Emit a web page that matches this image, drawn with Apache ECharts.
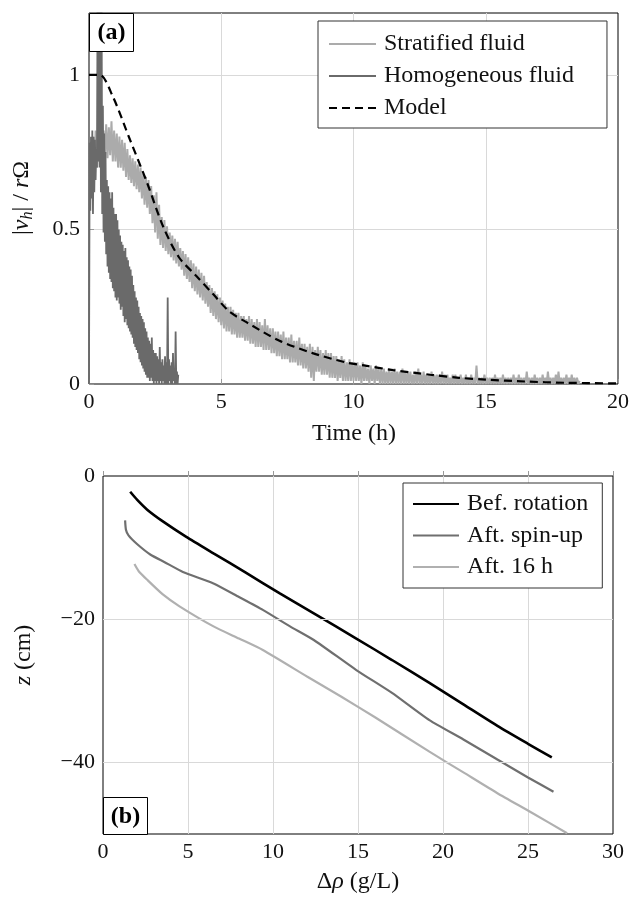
<!DOCTYPE html>
<html>
<head>
<meta charset="utf-8">
<script src="https://cdn.jsdelivr.net/npm/echarts@6/dist/echarts.min.js"></script>
<style>
  html, body { margin: 0; padding: 0; background: #fff; }
  #chart { width: 632px; height: 898px; }
</style>
</head>
<body>
<div id="chart"></div>
<script>
// ---- panel (a): velocity decay ----
// stratified fluid: upper / lower edge of the noisy trace, every 0.1 h from 0.1 h
const strStart = 0.1
const strStep = 0.1
const strHigh = [
  0.80, 0.82, 0.79, 0.83, 0.82, 0.84, 0.83, 0.85, 0.82, 0.81,
  0.80, 0.79, 0.78, 0.76, 0.74, 0.73, 0.72, 0.71, 0.70, 0.68,
  0.67, 0.66, 0.64, 0.61, 0.62, 0.58, 0.54, 0.53, 0.51, 0.49,
  0.48, 0.47, 0.46, 0.44, 0.43, 0.42, 0.41, 0.40, 0.39, 0.38,
  0.37, 0.36, 0.35, 0.33, 0.32, 0.31, 0.30, 0.29, 0.28, 0.27,
  0.26, 0.25, 0.25, 0.24, 0.23, 0.23, 0.22, 0.22, 0.21, 0.22,
  0.21, 0.20, 0.21, 0.20, 0.19, 0.21, 0.19, 0.18, 0.18, 0.17,
  0.17, 0.16, 0.17, 0.15, 0.15, 0.16, 0.14, 0.14, 0.15, 0.13,
  0.13, 0.12, 0.13, 0.12, 0.11, 0.12, 0.11, 0.10, 0.11, 0.10,
  0.10, 0.09, 0.09, 0.08, 0.09, 0.08, 0.07, 0.08, 0.07, 0.07,
  0.07, 0.06, 0.07, 0.06, 0.05, 0.06, 0.05, 0.06, 0.05, 0.05,
  0.05, 0.04, 0.05, 0.04, 0.05, 0.04, 0.04, 0.05, 0.04, 0.04,
  0.04, 0.03, 0.04, 0.05, 0.03, 0.04, 0.03, 0.03, 0.04, 0.03,
  0.03, 0.03, 0.04, 0.03, 0.03, 0.02, 0.03, 0.03, 0.02, 0.03,
  0.02, 0.03, 0.02, 0.03, 0.02, 0.06, 0.02, 0.02, 0.03, 0.02,
  0.02, 0.02, 0.03, 0.02, 0.02, 0.03, 0.02, 0.02, 0.02, 0.03,
  0.02, 0.03, 0.02, 0.02, 0.04, 0.02, 0.02, 0.03, 0.02, 0.02,
  0.03, 0.02, 0.04, 0.02, 0.02, 0.03, 0.04, 0.02, 0.02, 0.03,
  0.02, 0.03, 0.02, 0.02, 0.01
]
const strLow = [
  0.66, 0.68, 0.70, 0.72, 0.72, 0.74, 0.73, 0.74, 0.72, 0.72,
  0.70, 0.70, 0.69, 0.67, 0.66, 0.65, 0.64, 0.63, 0.62, 0.60,
  0.58, 0.57, 0.55, 0.52, 0.49, 0.47, 0.45, 0.44, 0.43, 0.42,
  0.41, 0.40, 0.39, 0.38, 0.37, 0.35, 0.34, 0.33, 0.31, 0.30,
  0.29, 0.28, 0.27, 0.26, 0.25, 0.23, 0.22, 0.21, 0.20, 0.19,
  0.18, 0.17, 0.17, 0.16, 0.16, 0.15, 0.15, 0.15, 0.14, 0.14,
  0.13, 0.13, 0.12, 0.12, 0.12, 0.11, 0.11, 0.11, 0.10, 0.10,
  0.09, 0.09, 0.08, 0.08, 0.08, 0.07, 0.07, 0.07, 0.06, 0.06,
  0.05, 0.05, 0.04, 0.02, 0.01, 0.04, 0.04, 0.03, 0.03, 0.03,
  0.02, 0.02, 0.02, 0.01, 0.02, 0.01, 0.01, 0.01, 0.01, 0.01,
  0.01, 0.01, 0.00, 0.01, 0.01, 0.00, 0.01, 0.00, 0.01, 0.00,
  0.00, 0.00, 0.00, 0.00, 0.00, 0.00, 0.00, 0.00, 0.00, 0.00,
  0.00, 0.00, 0.00, 0.00, 0.00, 0.00, 0.00, 0.00, 0.00, 0.00,
  0.00, 0.00, 0.00, 0.00, 0.00, 0.00, 0.00, 0.00, 0.00, 0.00,
  0.00, 0.00, 0.00, 0.00, 0.00, 0.00, 0.00, 0.00, 0.00, 0.00,
  0.00, 0.00, 0.00, 0.00, 0.00, 0.00, 0.00, 0.00, 0.00, 0.00,
  0.00, 0.00, 0.00, 0.00, 0.00, 0.00, 0.00, 0.00, 0.00, 0.00,
  0.00, 0.00, 0.00, 0.00, 0.00, 0.00, 0.00, 0.00, 0.00, 0.00,
  0.00, 0.00, 0.00, 0.00, 0.00
]
// homogeneous fluid: upper / lower edge of the noisy trace, every 0.05 h from 0 h
const homStep = 0.05
const homHigh = [
  0.78, 0.80, 0.82, 0.80, 0.79, 0.76, 1.25, 1.25, 1.25, 1.25,
  0.90, 0.81, 0.75, 0.66, 0.64, 0.62, 0.60, 0.62, 0.57, 0.55,
  0.55, 0.53, 0.50, 0.48, 0.46, 0.45, 0.43, 0.44, 0.41, 0.40,
  0.38, 0.37, 0.35, 0.32, 0.30, 0.28, 0.27, 0.25, 0.23, 0.22,
  0.21, 0.20, 0.18, 0.17, 0.15, 0.14, 0.13, 0.15, 0.11, 0.10,
  0.10, 0.09, 0.08, 0.12, 0.07, 0.08, 0.06, 0.09, 0.07, 0.28,
  0.08, 0.06, 0.07, 0.10, 0.05, 0.17, 0.04, 0.03
]
const homLow = [
  0.00, 0.56, 0.60, 0.55, 0.62, 0.66, 0.70, 0.72, 0.70, 0.62,
  0.55, 0.49, 0.46, 0.42, 0.38, 0.36, 0.34, 0.33, 0.31, 0.30,
  0.28, 0.27, 0.28, 0.26, 0.24, 0.25, 0.22, 0.20, 0.21, 0.19,
  0.18, 0.17, 0.16, 0.15, 0.13, 0.12, 0.11, 0.10, 0.08, 0.07,
  0.06, 0.05, 0.04, 0.03, 0.02, 0.02, 0.01, 0.02, 0.01, 0.00,
  0.01, 0.00, 0.01, 0.00, 0.01, 0.00, 0.01, 0.00, 0.00, 0.00,
  0.00, 0.01, 0.00, 0.00, 0.01, 0.00, 0.00, 0.00
]
const modelTime = [0, 0.4, 0.9, 1.55, 2.2, 2.8, 3.4, 4.05, 4.7, 5.3, 5.95, 7.2, 8.45, 9.7, 10.4, 11.5, 12.9, 14, 15, 16.5, 18, 20]
const modelVel = [1, 1, 0.93, 0.79, 0.65, 0.51, 0.41, 0.35, 0.29, 0.235, 0.2, 0.14, 0.1, 0.07, 0.06, 0.045, 0.03, 0.02, 0.014, 0.008, 0.004, 0.002]

// ---- panel (b): density profiles ----
const befRho = [1.6, 2.0, 2.6, 3.5, 4.9, 6.5, 8.4, 10.4, 12.4, 14.9, 17, 19.2, 21.2, 23.2, 25, 26.4]
const befZ = [-2.2, -3.3, -4.7, -6.3, -8.5, -10.8, -13.5, -16.4, -19.2, -22.7, -25.7, -28.9, -31.9, -34.9, -37.4, -39.3]
const spinRho = [1.3, 1.35, 1.5, 2.0, 2.8, 3.6, 4.7, 6.5, 8, 9.4, 11, 12.4, 14.9, 17, 19.2, 21.2, 23.2, 25, 26.5]
const spinZ = [-6.2, -7.5, -8.3, -9.5, -11.0, -12.0, -13.4, -15.0, -16.9, -18.7, -21.0, -22.9, -27.1, -30.3, -34.1, -36.8, -39.6, -42.1, -44.1]
const aft16Rho = [1.85, 2.1, 2.6, 3.5, 4.5, 6.5, 8, 9.4, 12, 14, 16, 19.2, 21.2, 23.2, 25.2, 27.3]
const aft16Z = [-12.3, -13.3, -14.5, -16.5, -18.2, -21.0, -22.7, -24.3, -28.0, -30.8, -33.7, -38.5, -41.4, -44.3, -47.0, -49.9]
const zGridLines = [-20, -40]

const FONT = 'Liberation Serif'
const pairs = (xs, ys) => xs.map((x, i) => [x, ys[i]])

// trace runs low -> high -> low ... so the noisy band gets filled
function band(start, step, low, high) {
  const out = []
  low.forEach((v, i) => {
    const t = start + i * step
    out.push([+t.toFixed(3), v])
    out.push([+(t + step / 2).toFixed(3), high[i]])
  })
  return out
}

const axisLabel = { fontFamily: FONT, fontSize: 22, color: '#111' }
const splitLine = { show: true, showMinLine: false, showMaxLine: false, lineStyle: { color: '#d9d9d9', width: 1 } }
const tick = { show: true, inside: true, length: 5, lineStyle: { color: '#999' } }
const legendBase = {
  orient: 'vertical', itemHeight: 12,
  borderColor: '#333', borderWidth: 1, backgroundColor: '#fff',
  selectedMode: false,
  itemStyle: { color: 'rgba(0,0,0,0)', borderWidth: 0, opacity: 0 },
  textStyle: { fontFamily: FONT, fontSize: 24, color: '#111', lineHeight: 22, padding: [0, 0, 0, 3] }
}

const chart = echarts.init(document.getElementById('chart'))
chart.setOption({
  animation: false,
  backgroundColor: '#fff',
  grid: [
    { left: 89, top: 13, width: 530, height: 371, show: true, borderColor: '#000', borderWidth: 1 },
    { left: 103, top: 476, width: 510, height: 358, show: true, borderColor: '#000', borderWidth: 1 }
  ],
  xAxis: [
    {
      gridIndex: 0, type: 'value', min: 0, max: 20, interval: 5,
      axisLine: { show: false }, axisTick: tick, splitLine: splitLine,
      axisLabel: { ...axisLabel, margin: 7 }
    },
    {
      gridIndex: 1, type: 'value', min: 0, max: 30, interval: 5,
      axisLine: { show: false }, axisTick: tick, splitLine: splitLine,
      axisLabel: { ...axisLabel, margin: 7 }
    }
  ],
  yAxis: [
    {
      gridIndex: 0, type: 'value', min: 0, max: 1.2, interval: 0.5,
      axisLine: { show: false }, axisTick: tick, splitLine: splitLine,
      axisLabel: {
        ...axisLabel, margin: 9,
        formatter: v => (v === 0 || v === 0.5 || v === 1) ? String(v) : ''
      }
    },
    {
      gridIndex: 1, type: 'value', min: -50, max: 0, interval: 10,
      axisLine: { show: false }, axisTick: { show: false }, splitLine: { show: false },
      axisLabel: {
        ...axisLabel, margin: 8,
        formatter: v => v % 20 === 0 ? (v < 0 ? '\u2212' + (-v) : String(v)) : ''
      }
    }
  ],
  legend: [
    {
      ...legendBase,
      data: ['Stratified fluid', 'Homogeneous fluid', 'Model'],
      left: 318, top: 21, itemWidth: 47, itemGap: 8,
      padding: [11, 33, 8, 10]
    },
    {
      ...legendBase,
      data: ['Bef. rotation', 'Aft. spin-up', 'Aft. 16 h'],
      left: 403, top: 483, itemWidth: 46, itemGap: 7.5,
      padding: [9, 14, 9, 9]
    }
  ],
  series: [
    {
      name: 'Stratified fluid', type: 'line', xAxisIndex: 0, yAxisIndex: 0,
      data: band(strStart, strStep, strLow, strHigh), symbol: 'none', color: '#ababab',
      lineStyle: { width: 2, color: '#ababab' }
    },
    {
      name: 'Homogeneous fluid', type: 'line', xAxisIndex: 0, yAxisIndex: 0,
      data: band(0, homStep, homLow, homHigh), symbol: 'none', color: '#6a6a6a',
      lineStyle: { width: 1.8, color: '#6a6a6a' }
    },
    {
      name: 'Model', type: 'line', xAxisIndex: 0, yAxisIndex: 0,
      data: pairs(modelTime, modelVel), symbol: 'none', smooth: 0.3, color: '#000',
      lineStyle: { width: 2.2, color: '#000', type: [8, 5] }
    },
    {
      // grid lines at z = -20, -40
      name: 'zgrid', type: 'line', xAxisIndex: 1, yAxisIndex: 1, data: [], z: 1,
      markLine: {
        silent: true, symbol: ['none', 'none'], label: { show: false },
        lineStyle: { color: '#d9d9d9', width: 1, type: 'solid' },
        data: zGridLines.map(v => ({ yAxis: v }))
      }
    },
    {
      name: 'Bef. rotation', type: 'line', xAxisIndex: 1, yAxisIndex: 1,
      data: pairs(befRho, befZ), symbol: 'none', smooth: 0.2, color: '#000',
      lineStyle: { width: 2.6, color: '#000' }
    },
    {
      name: 'Aft. spin-up', type: 'line', xAxisIndex: 1, yAxisIndex: 1,
      data: pairs(spinRho, spinZ), symbol: 'none', smooth: 0.2, color: '#6f6f6f',
      lineStyle: { width: 2.2, color: '#6f6f6f' }
    },
    {
      name: 'Aft. 16 h', type: 'line', xAxisIndex: 1, yAxisIndex: 1,
      data: pairs(aft16Rho, aft16Z), symbol: 'none', smooth: 0.2, color: '#b0b0b0',
      lineStyle: { width: 2.2, color: '#b0b0b0' }
    }
  ],
  graphic: [
    // panel tags
    {
      type: 'group', left: 89, top: 13, z: 100, children: [
        { type: 'rect', z: 100, shape: { x: 0, y: 0, width: 44, height: 38 }, style: { fill: '#fff', stroke: '#000', lineWidth: 1 } },
        { type: 'text', z: 101, x: 22, y: 19, style: { text: '(a)', align: 'center', verticalAlign: 'middle', font: 'bold 24px "Liberation Serif"', fill: '#000' } }
      ]
    },
    {
      type: 'group', left: 103, top: 797, z: 100, children: [
        { type: 'rect', z: 100, shape: { x: 0, y: 0, width: 44, height: 37 }, style: { fill: '#fff', stroke: '#000', lineWidth: 1 } },
        { type: 'text', z: 101, x: 22, y: 19, style: { text: '(b)', align: 'center', verticalAlign: 'middle', font: 'bold 24px "Liberation Serif"', fill: '#000' } }
      ]
    },
    // axis titles
    {
      type: 'text', x: 354, y: 434, z: 100,
      style: { text: 'Time (h)', align: 'center', verticalAlign: 'middle', font: '24px "Liberation Serif"', fill: '#111' }
    },
    {
      type: 'text', x: 358, y: 882, z: 100,
      style: {
        text: 'Δ{i|ρ} (g/L)', align: 'center', verticalAlign: 'middle', font: '24px "Liberation Serif"', fill: '#111',
        rich: { i: { fontStyle: 'italic', fontFamily: FONT, fontSize: 24, fill: '#111' } }
      }
    },
    {
      type: 'text', x: 22, y: 198, rotation: Math.PI / 2, z: 100,
      style: {
        text: '|{i|v}{s|h}| / {i|r}Ω', align: 'center', verticalAlign: 'middle', font: '24px "Liberation Serif"', fill: '#111',
        rich: {
          i: { fontStyle: 'italic', fontFamily: FONT, fontSize: 24, fill: '#111' },
          s: { fontStyle: 'italic', fontFamily: FONT, fontSize: 16, fill: '#111', verticalAlign: 'bottom', lineHeight: 28 }
        }
      }
    },
    {
      type: 'text', x: 24, y: 655, rotation: Math.PI / 2, z: 100,
      style: {
        text: '{i|z} (cm)', align: 'center', verticalAlign: 'middle', font: '24px "Liberation Serif"', fill: '#111',
        rich: { i: { fontStyle: 'italic', fontFamily: FONT, fontSize: 24, fill: '#111' } }
      }
    }
  ]
})
</script>
</body>
</html>
